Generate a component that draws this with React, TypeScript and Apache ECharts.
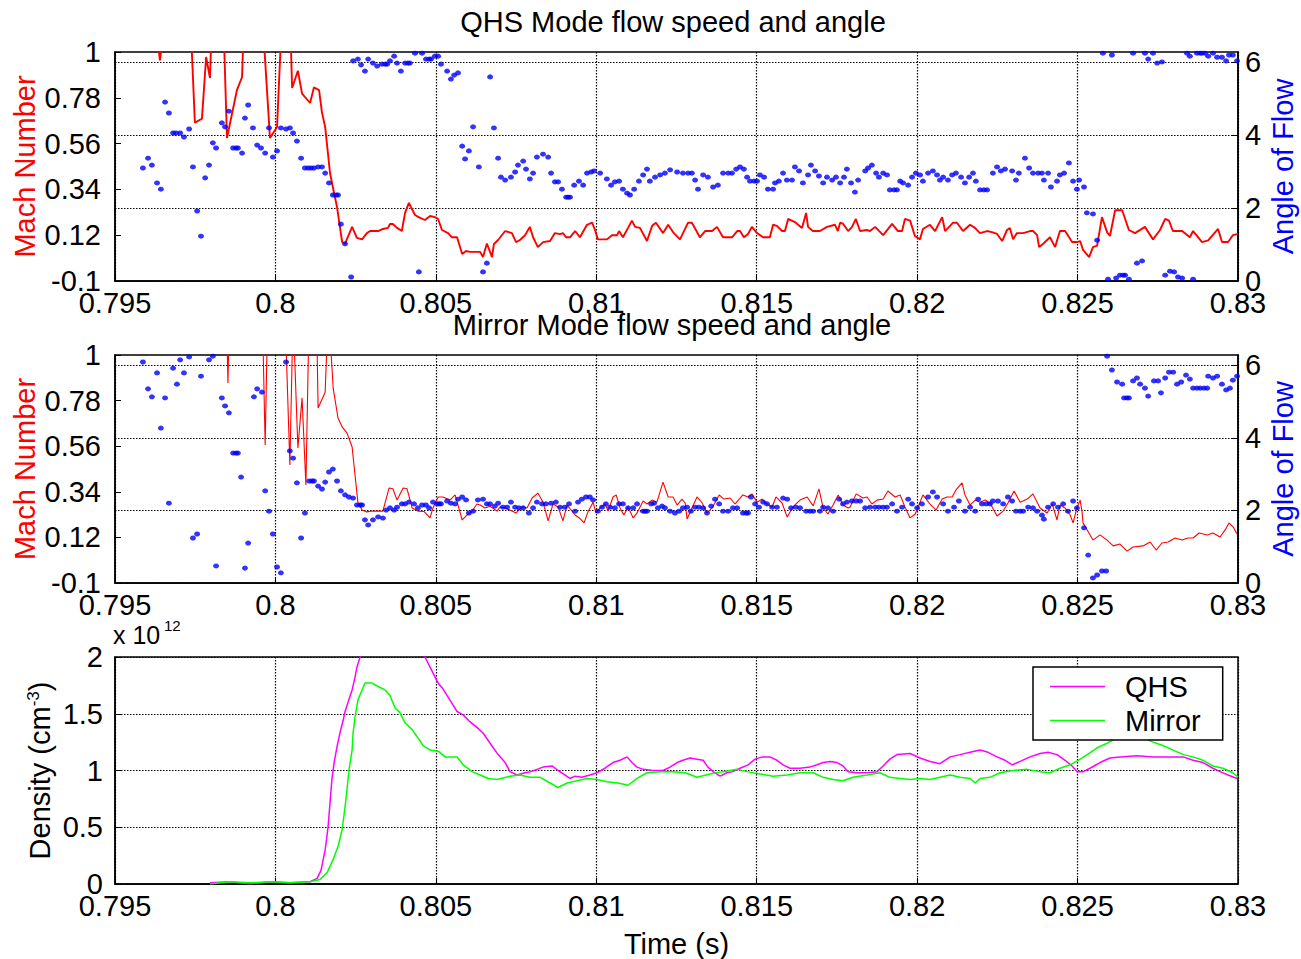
import React, { useEffect, useRef } from 'react';
import * as echarts from 'echarts';

const FONT = "'Liberation Sans', Arial, Helvetica, sans-serif";

const X_MIN = 0.795;
const X_MAX = 0.83;
const X_STEP = 0.005;
const machTicks = [-0.1, 0.12, 0.34, 0.56, 0.78, 1];
const angleTicks = [0, 2, 4, 6];
const ANGLE_MAX = 6.2832;
const densityTicks = [0, 0.5, 1, 1.5, 2];

const titles = ['QHS Mode flow speed and angle', 'Mirror Mode flow speed and angle'];
const legendNames = ['QHS', 'Mirror'];

// QHS mode: Mach number [time s, Mach]
const qhsMach: [number, number][] = [
  [0.79631,1.08],[0.79640,0.96],[0.79650,1.08],[0.79687,1.3],[0.79734,1.2],[0.79749,0.66],[0.79771,0.68],[0.79784,0.976],[0.79796,0.875],[0.79805,1.3],
  [0.79833,1.4],[0.79849,0.587],[0.79880,0.817],[0.79896,0.88],[0.79905,1.3],[0.79946,1.5],[0.79983,0.587],[0.80005,0.64],[0.80024,1.3],[0.80045,1.2],
  [0.80052,0.827],[0.80070,0.91],[0.80083,0.80],[0.80108,0.755],[0.80120,0.83],[0.80136,0.817],[0.80145,0.71],[0.80155,0.64],[0.80170,0.42],[0.80179,0.35],
  [0.80192,0.255],[0.80208,0.087],[0.80217,0.08],[0.80239,0.16],[0.80254,0.107],[0.80270,0.10],[0.80285,0.13],[0.80295,0.14],[0.80320,0.14],[0.80335,0.15],
  [0.80351,0.155],[0.80357,0.174],[0.80366,0.174],[0.80379,0.155],[0.80394,0.14],[0.80404,0.227],[0.80416,0.275],[0.80435,0.217],[0.80451,0.203],[0.80466,0.193],
  [0.80482,0.212],[0.80497,0.207],[0.80507,0.198],[0.80519,0.145],[0.80538,0.13],[0.80550,0.11],[0.80566,0.11],[0.80582,0.03],[0.80594,0.044],[0.80606,0.04],
  [0.80638,0.04],[0.80647,0.015],[0.80659,0.08],[0.80675,0.015],[0.80681,0.078],[0.80694,0.097],[0.80716,0.14],[0.80737,0.13],[0.80750,0.087],[0.80762,0.097],
  [0.80778,0.12],[0.80793,0.16],[0.80803,0.11],[0.80818,0.063],[0.80834,0.087],[0.80856,0.092],[0.80871,0.13],[0.80887,0.125],[0.80896,0.13],[0.80906,0.11],
  [0.80918,0.11],[0.80934,0.14],[0.80949,0.11],[0.80971,0.17],[0.80987,0.18],[0.80996,0.145],[0.81005,0.10],[0.81033,0.10],[0.81049,0.12],[0.81065,0.12],
  [0.81071,0.14],[0.81083,0.11],[0.81099,0.155],[0.81111,0.19],[0.81121,0.16],[0.81136,0.155],[0.81152,0.11],[0.81158,0.092],[0.81174,0.165],[0.81186,0.18],
  [0.81208,0.13],[0.81224,0.17],[0.81239,0.135],[0.81261,0.10],[0.81286,0.18],[0.81298,0.18],[0.81323,0.11],[0.81339,0.14],[0.81361,0.14],[0.81376,0.16],
  [0.81395,0.11],[0.81423,0.11],[0.81439,0.14],[0.81448,0.14],[0.81460,0.11],[0.81473,0.126],[0.81485,0.16],[0.81501,0.13],[0.81520,0.11],[0.81541,0.11],
  [0.81551,0.17],[0.81563,0.165],[0.81579,0.14],[0.81588,0.14],[0.81598,0.198],[0.81619,0.183],[0.81641,0.155],[0.81654,0.227],[0.81660,0.16],[0.81675,0.14],
  [0.81697,0.14],[0.81719,0.16],[0.81744,0.17],[0.81753,0.14],[0.81760,0.18],[0.81769,0.175],[0.81785,0.14],[0.81797,0.16],[0.81809,0.198],[0.81822,0.14],
  [0.81844,0.145],[0.81853,0.14],[0.81869,0.16],[0.81894,0.12],[0.81922,0.174],[0.81940,0.14],[0.81953,0.14],[0.81962,0.198],[0.81978,0.19],[0.81993,0.116],
  [0.82009,0.10],[0.82018,0.15],[0.82040,0.17],[0.82056,0.14],[0.82078,0.207],[0.82087,0.14],[0.82112,0.18],[0.82124,0.18],[0.82143,0.14],[0.82165,0.17],
  [0.82180,0.155],[0.82196,0.13],[0.82218,0.14],[0.82233,0.135],[0.82249,0.126],[0.82265,0.092],[0.82280,0.145],[0.82289,0.155],[0.82299,0.10],[0.82311,0.13],
  [0.82330,0.13],[0.82352,0.14],[0.82361,0.14],[0.82374,0.12],[0.82380,0.063],[0.82392,0.078],[0.82414,0.11],[0.82430,0.063],[0.82445,0.14],[0.82461,0.14],
  [0.82483,0.087],[0.82498,0.087],[0.82508,0.092],[0.82517,0.049],[0.82536,0.015],[0.82548,0.063],[0.82561,0.07],[0.82576,0.207],[0.82592,0.135],[0.82601,0.116],
  [0.82617,0.24],[0.82639,0.24],[0.82660,0.145],[0.82679,0.13],[0.82710,0.16],[0.82735,0.10],[0.82757,0.145],[0.82773,0.198],[0.82785,0.19],[0.82797,0.14],
  [0.82826,0.14],[0.82850,0.11],[0.82860,0.14],[0.82888,0.087],[0.82907,0.095],[0.82938,0.15],[0.82950,0.087],[0.82969,0.087],[0.82984,0.12],[0.83000,0.126]
];

// QHS mode: flow angle [time s, rad]
const qhsAngle: [number, number][] = [
  [0.79587,3.10],[0.79603,3.37],[0.79615,3.18],[0.79631,2.69],[0.79643,2.52],[0.79656,4.91],[0.79668,4.61],[0.79681,4.06],[0.79690,4.06],[0.79703,4.06],
  [0.79715,3.95],[0.79731,4.17],[0.79743,3.13],[0.79756,1.92],[0.79768,1.23],[0.79781,2.83],[0.79793,3.18],[0.79805,3.79],[0.79815,3.65],[0.79833,4.34],
  [0.79843,4.23],[0.79855,4.66],[0.79868,3.65],[0.79877,3.65],[0.79883,3.65],[0.79896,3.51],[0.79905,4.47],[0.79915,4.83],[0.79930,4.20],[0.79943,3.73],
  [0.79955,3.65],[0.79968,3.51],[0.79980,4.20],[0.79992,3.40],[0.80005,3.57],[0.80017,4.20],[0.80033,4.17],[0.80045,4.20],[0.80055,4.06],[0.80067,3.84],
  [0.80080,3.37],[0.80092,3.10],[0.80102,3.10],[0.80111,3.10],[0.80120,3.10],[0.80133,3.13],[0.80145,3.13],[0.80155,2.96],[0.80167,2.69],[0.80179,2.36],
  [0.80189,2.36],[0.80195,2.36],[0.80204,1.56],[0.80217,1.02],[0.80236,0.11],[0.80242,6.04],[0.80257,6.09],[0.80267,5.93],[0.80279,5.76],[0.80289,6.09],
  [0.80304,5.98],[0.80317,5.90],[0.80332,5.95],[0.80342,5.95],[0.80348,5.95],[0.80357,6.04],[0.80370,6.17],[0.80379,5.98],[0.80391,5.76],[0.80404,5.98],
  [0.80413,5.98],[0.80419,5.98],[0.80435,6.25],[0.80447,0.25],[0.80457,6.25],[0.80469,6.09],[0.80479,6.09],[0.80485,6.09],[0.80497,6.17],[0.80507,6.17],
  [0.80516,5.95],[0.80535,5.76],[0.80547,5.54],[0.80557,5.65],[0.80569,5.71],[0.80582,3.70],[0.80591,3.35],[0.80603,3.57],[0.80616,4.23],[0.80634,3.13],
  [0.80647,0.25],[0.80659,0.49],[0.80669,5.60],[0.80681,4.20],[0.80694,3.37],[0.80703,2.85],[0.80716,2.77],[0.80734,2.85],[0.80747,2.99],[0.80756,3.18],
  [0.80772,3.29],[0.80781,3.07],[0.80793,2.80],[0.80803,2.96],[0.80815,3.40],[0.80834,3.48],[0.80850,3.40],[0.80859,2.96],[0.80871,2.72],[0.80881,2.72],
  [0.80893,2.52],[0.80906,2.30],[0.80912,2.30],[0.80918,2.30],[0.80931,2.63],[0.80946,2.74],[0.80959,2.63],[0.80971,2.96],[0.80984,2.99],[0.80993,3.02],
  [0.81012,2.96],[0.81033,2.80],[0.81046,2.63],[0.81058,2.72],[0.81071,2.74],[0.81083,2.52],[0.81096,2.41],[0.81105,2.36],[0.81118,2.52],[0.81133,2.74],
  [0.81146,2.91],[0.81158,3.07],[0.81167,2.74],[0.81183,2.85],[0.81199,2.91],[0.81214,2.96],[0.81230,3.05],[0.81252,2.99],[0.81270,2.96],[0.81286,2.96],
  [0.81298,2.96],[0.81308,2.77],[0.81317,2.52],[0.81333,2.91],[0.81348,2.85],[0.81364,2.58],[0.81379,2.63],[0.81395,2.96],[0.81411,2.96],[0.81423,2.96],
  [0.81436,3.07],[0.81448,3.13],[0.81460,3.07],[0.81470,2.85],[0.81479,2.74],[0.81492,2.74],[0.81501,2.74],[0.81510,2.91],[0.81523,2.85],[0.81535,2.52],
  [0.81551,2.52],[0.81557,2.69],[0.81569,2.74],[0.81582,2.96],[0.81594,2.77],[0.81610,2.77],[0.81619,3.13],[0.81632,3.02],[0.81644,2.69],[0.81660,2.91],
  [0.81669,3.18],[0.81682,3.02],[0.81694,2.88],[0.81707,2.69],[0.81719,2.85],[0.81735,2.77],[0.81747,2.85],[0.81760,2.69],[0.81772,2.85],[0.81781,3.07],
  [0.81794,2.69],[0.81806,2.44],[0.81816,2.77],[0.81838,3.02],[0.81847,3.10],[0.81859,3.18],[0.81872,2.96],[0.81881,2.85],[0.81894,2.96],[0.81906,2.91],
  [0.81915,2.50],[0.81928,2.50],[0.81937,2.50],[0.81947,2.74],[0.81956,2.69],[0.81972,2.63],[0.81984,2.85],[0.81996,2.96],[0.82009,2.91],[0.82018,2.74],
  [0.82034,2.96],[0.82049,3.02],[0.82062,2.91],[0.82071,2.77],[0.82081,2.85],[0.82096,2.77],[0.82109,2.91],[0.82121,2.96],[0.82137,2.85],[0.82149,2.69],
  [0.82162,2.85],[0.82174,2.96],[0.82183,2.74],[0.82196,2.50],[0.82208,2.50],[0.82218,2.50],[0.82236,2.96],[0.82249,3.13],[0.82261,3.02],[0.82274,3.07],
  [0.82296,3.02],[0.82308,2.77],[0.82317,2.96],[0.82336,3.37],[0.82349,3.10],[0.82361,2.96],[0.82377,2.96],[0.82389,2.96],[0.82395,2.77],[0.82408,2.96],
  [0.82417,2.58],[0.82436,2.74],[0.82445,2.91],[0.82458,2.96],[0.82473,3.24],[0.82486,2.74],[0.82498,2.52],[0.82505,2.77],[0.82520,2.58],[0.82529,1.87],
  [0.82548,1.84],[0.82561,1.12],[0.82579,6.25],[0.82595,0.05],[0.82607,6.20],[0.82620,0.08],[0.82632,0.16],[0.82642,0.16],[0.82648,0.16],[0.82660,0.05],
  [0.82673,6.25],[0.82685,0.49],[0.82701,0.55],[0.82710,6.25],[0.82720,6.09],[0.82735,6.25],[0.82748,5.98],[0.82763,6.01],[0.82773,0.16],[0.82788,0.27],
  [0.82801,0.25],[0.82813,0.11],[0.82826,0.08],[0.82841,6.25],[0.82850,6.17],[0.82860,0.05],[0.82872,6.25],[0.82882,6.25],[0.82888,6.25],[0.82897,6.25],
  [0.82907,6.17],[0.82922,6.25],[0.82935,6.14],[0.82950,6.14],[0.82963,6.04],[0.82972,6.20],[0.82984,6.20],[0.82997,6.04]
];

// Mirror mode: Mach number [time s, Mach]
const mirrorMach: [number, number][] = [
  [0.79846,1.3],[0.79852,0.865],[0.79858,1.3],[0.79958,1.3],[0.79968,0.566],[0.79977,1.3],[0.80030,1.2],[0.80045,0.469],[0.80055,1.2],[0.80070,0.551],
  [0.80083,0.793],[0.80095,0.373],[0.80105,1.2],[0.80127,1.3],[0.80133,0.744],[0.80155,0.82],[0.80164,1.2],[0.80170,1.1],[0.80180,0.84],[0.80195,0.696],
  [0.80208,0.653],[0.80223,0.624],[0.80239,0.556],[0.80248,0.421],[0.80257,0.29],[0.80270,0.252],[0.80285,0.243],[0.80301,0.247],[0.80335,0.247],[0.80354,0.358],
  [0.80366,0.355],[0.80379,0.30],[0.80398,0.358],[0.80410,0.355],[0.80426,0.262],[0.80444,0.247],[0.80463,0.245],[0.80482,0.214],[0.80491,0.262],[0.80507,0.315],
  [0.80522,0.315],[0.80544,0.30],[0.80560,0.325],[0.80569,0.276],[0.80582,0.204],[0.80597,0.228],[0.80613,0.247],[0.80628,0.281],[0.80638,0.276],[0.80653,0.262],
  [0.80669,0.27],[0.80691,0.247],[0.80700,0.267],[0.80716,0.262],[0.80731,0.252],[0.80750,0.238],[0.80769,0.267],[0.80784,0.262],[0.80800,0.31],[0.80818,0.334],
  [0.80834,0.29],[0.80850,0.2],[0.80865,0.281],[0.80881,0.267],[0.80896,0.2],[0.80909,0.276],[0.80934,0.228],[0.80946,0.215],[0.80962,0.19],[0.80974,0.243],
  [0.80990,0.29],[0.80999,0.238],[0.81012,0.262],[0.81027,0.281],[0.81037,0.247],[0.81052,0.315],[0.81062,0.325],[0.81074,0.262],[0.81086,0.228],[0.81099,0.267],
  [0.81115,0.214],[0.81127,0.238],[0.81146,0.296],[0.81158,0.281],[0.81174,0.30],[0.81189,0.29],[0.81208,0.387],[0.81224,0.315],[0.81239,0.315],[0.81252,0.276],
  [0.81267,0.305],[0.81277,0.286],[0.81283,0.209],[0.81298,0.262],[0.81314,0.315],[0.81330,0.286],[0.81345,0.238],[0.81361,0.262],[0.81383,0.325],[0.81398,0.305],
  [0.81417,0.31],[0.81432,0.281],[0.81457,0.325],[0.81473,0.315],[0.81485,0.33],[0.81501,0.29],[0.81517,0.305],[0.81532,0.281],[0.81548,0.267],[0.81560,0.315],
  [0.81579,0.286],[0.81595,0.218],[0.81613,0.267],[0.81635,0.30],[0.81657,0.315],[0.81676,0.272],[0.81694,0.354],[0.81707,0.262],[0.81722,0.233],[0.81738,0.276],
  [0.81754,0.325],[0.81769,0.276],[0.81785,0.262],[0.81791,0.267],[0.81810,0.33],[0.81831,0.31],[0.81844,0.315],[0.81859,0.281],[0.81875,0.30],[0.81894,0.305],
  [0.81909,0.344],[0.81931,0.315],[0.81947,0.325],[0.81962,0.267],[0.81978,0.214],[0.81994,0.233],[0.82003,0.267],[0.82018,0.325],[0.82040,0.281],[0.82059,0.252],
  [0.82078,0.305],[0.82093,0.315],[0.82109,0.315],[0.82121,0.349],[0.82140,0.383],[0.82149,0.325],[0.82165,0.276],[0.82181,0.30],[0.82196,0.29],[0.82212,0.30],
  [0.82227,0.286],[0.82249,0.223],[0.82268,0.247],[0.82283,0.286],[0.82302,0.344],[0.82321,0.29],[0.82343,0.305],[0.82361,0.33],[0.82383,0.262],[0.82405,0.238],
  [0.82421,0.281],[0.82436,0.204],[0.82445,0.276],[0.82461,0.262],[0.82477,0.228],[0.82486,0.19],[0.82498,0.262],[0.82508,0.30],[0.82514,0.243],[0.82517,0.19],
  [0.82530,0.156],[0.82548,0.107],[0.82570,0.132],[0.82592,0.107],[0.82611,0.079],[0.82632,0.088],[0.82654,0.054],[0.82673,0.074],[0.82704,0.079],[0.82726,0.098],
  [0.82745,0.059],[0.82763,0.093],[0.82782,0.098],[0.82804,0.117],[0.82826,0.107],[0.82844,0.117],[0.82860,0.117],[0.82879,0.141],[0.82904,0.132],[0.82922,0.141],
  [0.82944,0.122],[0.82960,0.156],[0.82972,0.19],[0.82985,0.17],[0.82997,0.136]
];

// Mirror mode: flow angle [time s, rad]
const mirrorAngle: [number, number][] = [
  [0.79587,6.09],[0.79603,5.35],[0.79615,5.13],[0.79631,5.79],[0.79643,4.27],[0.79656,5.10],[0.79668,2.20],[0.79681,5.92],[0.79693,5.48],[0.79703,6.15],
  [0.79715,5.79],[0.79731,6.23],[0.79743,1.24],[0.79756,1.35],[0.79768,5.70],[0.79793,6.15],[0.79805,6.25],[0.79815,0.47],[0.79833,5.10],[0.79843,4.88],
  [0.79855,4.69],[0.79868,3.58],[0.79877,3.58],[0.79883,3.58],[0.79893,2.92],[0.79905,0.41],[0.79915,1.10],[0.79933,5.13],[0.79943,5.35],[0.79958,5.26],
  [0.79968,2.54],[0.79980,1.98],[0.79992,1.35],[0.80005,0.44],[0.80017,0.28],[0.80033,6.09],[0.80045,3.64],[0.80055,3.44],[0.80067,2.76],[0.80080,1.24],
  [0.80092,1.93],[0.80105,2.81],[0.80114,2.81],[0.80120,2.81],[0.80133,2.67],[0.80145,2.59],[0.80155,2.78],[0.80167,3.06],[0.80179,3.14],[0.80192,2.81],
  [0.80204,2.54],[0.80217,2.43],[0.80229,2.37],[0.80242,2.34],[0.80254,2.15],[0.80264,2.15],[0.80270,2.15],[0.80279,1.74],[0.80289,1.60],[0.80304,1.74],
  [0.80320,1.82],[0.80335,1.79],[0.80345,2.01],[0.80357,2.07],[0.80370,2.01],[0.80379,2.09],[0.80394,2.18],[0.80404,2.18],[0.80416,2.23],[0.80432,2.18],
  [0.80444,2.07],[0.80457,2.15],[0.80469,2.15],[0.80479,2.07],[0.80491,2.23],[0.80504,2.18],[0.80510,2.18],[0.80516,2.18],[0.80535,2.26],[0.80547,2.20],
  [0.80560,2.18],[0.80569,2.31],[0.80582,2.37],[0.80594,2.29],[0.80603,1.93],[0.80616,1.98],[0.80631,2.29],[0.80647,2.31],[0.80659,2.18],[0.80669,2.18],
  [0.80684,2.12],[0.80694,2.20],[0.80709,2.09],[0.80722,2.09],[0.80734,2.23],[0.80747,2.09],[0.80759,2.07],[0.80772,2.07],[0.80790,1.93],[0.80803,2.07],
  [0.80815,2.23],[0.80831,2.18],[0.80843,2.18],[0.80859,2.20],[0.80874,2.23],[0.80887,2.09],[0.80902,2.09],[0.80915,2.18],[0.80934,1.98],[0.80943,2.23],
  [0.80955,2.31],[0.80968,2.37],[0.80980,2.37],[0.80990,2.29],[0.81005,1.98],[0.81018,2.09],[0.81030,2.18],[0.81043,2.09],[0.81058,2.07],[0.81071,2.18],
  [0.81083,2.18],[0.81099,2.07],[0.81115,2.07],[0.81127,2.18],[0.81146,1.98],[0.81152,1.98],[0.81158,1.98],[0.81171,2.18],[0.81180,2.20],[0.81192,2.07],
  [0.81205,2.12],[0.81214,2.07],[0.81230,1.98],[0.81245,1.93],[0.81258,1.98],[0.81270,2.07],[0.81283,2.09],[0.81295,1.98],[0.81308,2.09],[0.81320,2.09],
  [0.81333,2.07],[0.81345,1.93],[0.81358,2.12],[0.81370,2.31],[0.81383,2.18],[0.81395,1.98],[0.81411,1.98],[0.81426,2.07],[0.81439,2.07],[0.81457,1.93],
  [0.81467,1.93],[0.81473,1.93],[0.81482,2.37],[0.81495,2.18],[0.81507,2.09],[0.81520,2.23],[0.81532,2.18],[0.81548,2.09],[0.81563,2.09],[0.81582,2.34],
  [0.81595,2.31],[0.81607,2.07],[0.81622,2.09],[0.81635,2.07],[0.81654,1.98],[0.81666,1.98],[0.81676,1.98],[0.81697,1.98],[0.81707,2.09],[0.81722,2.07],
  [0.81738,1.98],[0.81757,2.31],[0.81769,2.18],[0.81781,2.23],[0.81797,2.26],[0.81810,2.26],[0.81822,2.26],[0.81838,2.07],[0.81853,2.09],[0.81869,2.09],
  [0.81881,2.09],[0.81894,2.09],[0.81906,2.09],[0.81922,2.18],[0.81937,1.98],[0.81953,2.09],[0.81972,2.31],[0.81984,2.18],[0.82000,2.07],[0.82015,2.18],
  [0.82034,2.37],[0.82049,2.51],[0.82062,2.37],[0.82081,2.18],[0.82096,1.98],[0.82115,2.09],[0.82130,2.26],[0.82149,1.98],[0.82165,2.09],[0.82181,1.98],
  [0.82190,2.31],[0.82202,2.18],[0.82215,2.18],[0.82227,2.18],[0.82236,2.26],[0.82252,2.26],[0.82268,2.18],[0.82283,2.37],[0.82296,2.26],[0.82308,1.98],
  [0.82321,1.98],[0.82330,1.98],[0.82346,2.09],[0.82361,2.07],[0.82374,1.98],[0.82389,1.87],[0.82395,1.76],[0.82408,2.09],[0.82424,2.18],[0.82439,2.09],
  [0.82455,2.18],[0.82470,1.98],[0.82486,2.26],[0.82498,2.07],[0.82520,1.52],[0.82533,0.77],[0.82548,0.14],[0.82561,0.22],[0.82576,0.33],[0.82589,0.33],
  [0.82592,6.25],[0.82607,5.87],[0.82623,5.54],[0.82639,5.48],[0.82645,5.10],[0.82654,5.10],[0.82660,5.10],[0.82673,5.57],[0.82685,5.65],[0.82695,5.48],
  [0.82710,5.37],[0.82720,5.15],[0.82738,5.57],[0.82751,5.57],[0.82760,5.24],[0.82773,5.65],[0.82785,5.81],[0.82798,5.81],[0.82810,5.48],[0.82823,5.54],
  [0.82838,5.73],[0.82850,5.62],[0.82860,5.37],[0.82872,5.37],[0.82882,5.37],[0.82894,5.37],[0.82904,5.37],[0.82907,5.70],[0.82922,5.65],[0.82935,5.70],
  [0.82950,5.48],[0.82963,5.32],[0.82975,5.37],[0.82984,5.59],[0.82997,5.70]
];

// Density (x 10^12 cm^-3) [time s, density]
const qhsDensity: [number, number][] = [
  [0.79796,0.01],[0.79858,0.02],[0.79921,0.00],[0.79983,0.02],[0.80045,0.01],[0.80108,0.02],[0.80130,0.05],[0.80142,0.12],[0.80155,0.30],[0.80164,0.50],
  [0.80170,0.71],[0.80176,0.92],[0.80183,1.07],[0.80192,1.21],[0.80201,1.33],[0.80211,1.44],[0.80217,1.52],[0.80226,1.60],[0.80239,1.71],[0.80248,1.82],
  [0.80254,1.91],[0.80264,2.00],[0.80295,2.20],[0.80357,2.35],[0.80419,2.30],[0.80466,2.00],[0.80482,1.91],[0.80491,1.86],[0.80507,1.77],[0.80522,1.72],
  [0.80544,1.62],[0.80566,1.52],[0.80585,1.49],[0.80606,1.43],[0.80628,1.38],[0.80647,1.33],[0.80669,1.24],[0.80694,1.14],[0.80716,1.07],[0.80731,0.99],
  [0.80753,0.96],[0.80778,0.98],[0.80797,0.99],[0.80815,1.01],[0.80834,1.03],[0.80862,1.04],[0.80881,1.00],[0.80903,0.96],[0.80918,0.93],[0.80934,0.95],
  [0.80955,0.94],[0.80980,0.96],[0.81002,0.98],[0.81027,1.02],[0.81052,1.07],[0.81074,1.09],[0.81096,1.12],[0.81111,1.07],[0.81127,1.03],[0.81146,1.01],
  [0.81177,1.00],[0.81208,1.00],[0.81230,1.03],[0.81252,1.07],[0.81270,1.09],[0.81292,1.11],[0.81314,1.10],[0.81333,1.09],[0.81348,1.03],[0.81364,0.99],
  [0.81386,0.95],[0.81407,0.98],[0.81426,0.99],[0.81448,1.02],[0.81473,1.05],[0.81495,1.10],[0.81517,1.12],[0.81541,1.12],[0.81563,1.09],[0.81582,1.05],
  [0.81604,1.02],[0.81635,1.02],[0.81666,1.03],[0.81688,1.05],[0.81707,1.07],[0.81729,1.08],[0.81750,1.07],[0.81769,1.04],[0.81785,0.99],[0.81813,0.98],
  [0.81844,0.98],[0.81875,0.99],[0.81894,1.04],[0.81915,1.10],[0.81937,1.14],[0.81978,1.15],[0.82009,1.11],[0.82040,1.08],[0.82071,1.06],[0.82103,1.12],
  [0.82134,1.14],[0.82165,1.16],[0.82196,1.18],[0.82221,1.16],[0.82249,1.12],[0.82274,1.09],[0.82296,1.05],[0.82321,1.08],[0.82352,1.12],[0.82383,1.15],
  [0.82408,1.16],[0.82436,1.14],[0.82461,1.09],[0.82483,1.04],[0.82498,0.99],[0.82517,0.99],[0.82539,1.02],[0.82570,1.07],[0.82601,1.11],[0.82632,1.12],
  [0.82685,1.13],[0.82735,1.12],[0.82788,1.12],[0.82829,1.12],[0.82860,1.09],[0.82891,1.07],[0.82922,1.02],[0.82944,0.99],[0.82969,0.96],[0.82997,0.93]
];

const mirrorDensity: [number, number][] = [
  [0.79796,0.00],[0.79858,0.02],[0.79921,0.01],[0.79983,0.02],[0.80045,0.01],[0.80108,0.02],[0.80139,0.04],[0.80161,0.10],[0.80179,0.21],[0.80195,0.33],
  [0.80208,0.48],[0.80217,0.68],[0.80223,0.83],[0.80229,1.00],[0.80239,1.18],[0.80242,1.33],[0.80248,1.47],[0.80257,1.62],[0.80270,1.71],[0.80279,1.77],
  [0.80301,1.77],[0.80320,1.74],[0.80342,1.71],[0.80357,1.66],[0.80373,1.55],[0.80388,1.51],[0.80404,1.42],[0.80426,1.36],[0.80441,1.30],[0.80460,1.22],
  [0.80482,1.18],[0.80507,1.17],[0.80529,1.12],[0.80566,1.12],[0.80585,1.05],[0.80613,0.99],[0.80638,0.96],[0.80663,0.93],[0.80691,0.92],[0.80731,0.95],
  [0.80762,0.96],[0.80793,0.94],[0.80825,0.94],[0.80856,0.89],[0.80881,0.85],[0.80909,0.89],[0.80940,0.91],[0.80971,0.93],[0.81002,0.92],[0.81033,0.90],
  [0.81068,0.89],[0.81099,0.87],[0.81127,0.93],[0.81158,0.98],[0.81199,0.99],[0.81239,0.99],[0.81277,0.98],[0.81314,0.94],[0.81354,0.97],[0.81395,0.99],
  [0.81439,1.01],[0.81470,0.99],[0.81510,0.97],[0.81551,0.95],[0.81595,0.96],[0.81635,0.98],[0.81676,0.98],[0.81707,0.94],[0.81738,0.92],[0.81769,0.91],
  [0.81800,0.94],[0.81844,0.96],[0.81884,0.98],[0.81915,0.94],[0.81947,0.93],[0.81978,0.92],[0.82009,0.93],[0.82040,0.92],[0.82071,0.94],[0.82103,0.96],
  [0.82134,0.94],[0.82165,0.93],[0.82181,0.89],[0.82196,0.93],[0.82227,0.94],[0.82258,0.98],[0.82299,1.00],[0.82343,1.01],[0.82383,0.99],[0.82414,0.98],
  [0.82445,1.02],[0.82477,1.05],[0.82502,1.09],[0.82530,1.14],[0.82561,1.20],[0.82592,1.24],[0.82611,1.27],[0.82648,1.32],[0.82695,1.30],[0.82735,1.25],
  [0.82766,1.22],[0.82798,1.18],[0.82829,1.14],[0.82860,1.12],[0.82891,1.09],[0.82922,1.04],[0.82953,1.02],[0.82984,0.98],[0.83000,0.94]
];

const RED = '#ff0000';
const BLUE = '#0000ff';
const MAGENTA = '#ff00ff';
const GREEN = '#00ff00';
const FS = 29;

const grids = [
  { left: 115, top: 52, width: 1123, height: 229 },
  { left: 115, top: 355, width: 1123, height: 228 },
  { left: 115, top: 657, width: 1123, height: 227 },
];

const labelStyle = { fontSize: FS, fontFamily: FONT, color: '#000' };
const dotted = { color: '#000', type: [1.5, 1.5] as number[], width: 1.2 };
const axisLineStyle = { show: true, onZero: false, lineStyle: { color: '#000', width: 1.5 } };

function xAxisFor(gridIndex: number, withName: boolean) {
  return {
    type: 'value', gridIndex, min: X_MIN, max: X_MAX, interval: X_STEP,
    axisLine: axisLineStyle,
    axisTick: { show: true, inside: true, length: 6, lineStyle: { color: '#000' } },
    axisLabel: { ...labelStyle, margin: 7, formatter: (v: number) => String(Number(v.toFixed(3))) },
    splitLine: { show: true, lineStyle: dotted },
    name: withName ? 'Time (s)' : '',
    nameLocation: 'middle', nameGap: 45, nameMoveOverlap: false,
    nameTextStyle: { ...labelStyle },
  };
}

function machAxis(gridIndex: number) {
  return {
    type: 'value', gridIndex, position: 'left', min: -0.1, max: 1,
    axisLine: axisLineStyle,
    axisTick: { show: true, inside: true, length: 6, customValues: machTicks, lineStyle: { color: '#000' } },
    axisLabel: { ...labelStyle, margin: 14, customValues: machTicks, formatter: (v: number) => String(Number(v.toFixed(2))) },
    splitLine: { show: false },
    name: 'Mach Number', nameLocation: 'middle', nameGap: 76, nameMoveOverlap: false,
    nameTextStyle: { ...labelStyle, color: RED },
  };
}

function angleAxis(gridIndex: number) {
  return {
    type: 'value', gridIndex, position: 'right', min: 0, max: ANGLE_MAX, interval: 2,
    axisLine: axisLineStyle,
    axisTick: { show: true, inside: true, length: 6, customValues: angleTicks, lineStyle: { color: '#000' } },
    axisLabel: { ...labelStyle, margin: 7, customValues: angleTicks },
    splitLine: { show: true, lineStyle: dotted },
    name: 'Angle of Flow', nameLocation: 'middle', nameGap: 30, nameMoveOverlap: false,
    nameTextStyle: { ...labelStyle, color: BLUE },
  };
}

const densityAxis = {
  type: 'value', gridIndex: 2, position: 'left', min: 0, max: 2, interval: 0.5,
  axisLine: axisLineStyle,
  axisTick: { show: true, inside: true, length: 6, customValues: densityTicks, lineStyle: { color: '#000' } },
  axisLabel: { ...labelStyle, margin: 12, customValues: densityTicks },
  splitLine: { show: true, lineStyle: dotted },
  name: 'Density (cm{sup|-3})', nameLocation: 'middle', nameGap: 61, nameMoveOverlap: false,
  nameTextStyle: { ...labelStyle, rich: { sup: { fontSize: 17, fontFamily: FONT, color: '#000', verticalAlign: 'top' } } },
};

export default function App() {
  const ref = useRef<HTMLDivElement>(null);
  useEffect(() => {
    if (!ref.current) return;
    const chart = echarts.init(ref.current, undefined, { renderer: 'svg' });
    const option: any = {
      animation: false,
      title: [
        { text: titles[0], left: 673, top: 7, textAlign: 'center', padding: 0,
          textStyle: { ...labelStyle, fontWeight: 'normal' } },
        { text: titles[1], left: 672, top: 310, textAlign: 'center', padding: 0,
          textStyle: { ...labelStyle, fontWeight: 'normal' } },
      ],
      grid: grids.map((g) => ({ ...g, show: true, borderColor: '#000', borderWidth: 1.5, backgroundColor: 'transparent', outerBoundsMode: 'none', containLabel: false })),
      xAxis: [xAxisFor(0, false), xAxisFor(1, false), xAxisFor(2, true)],
      yAxis: [machAxis(0), angleAxis(0), machAxis(1), angleAxis(1), densityAxis],
      legend: {
        data: legendNames,
        orient: 'vertical',
        left: 1033, top: 667,
        padding: [5, 22, 5, 17],
        icon: 'rect',
        itemWidth: 55, itemHeight: 1.5, itemGap: 5,
        textStyle: { ...labelStyle, padding: [0, 0, 0, 15] },
        borderColor: '#000', borderWidth: 1.5, backgroundColor: '#fff', borderRadius: 0,
      },
      graphic: [
        { type: 'text', left: 113, top: 622, style: { text: 'x 10', fontSize: 25, fontFamily: FONT, fill: '#000' } },
        { type: 'text', left: 164, top: 618, style: { text: '12', fontSize: 15, fontFamily: FONT, fill: '#000' } },
      ],
      series: [
        { type: 'line', name: 'QHS Mach', xAxisIndex: 0, yAxisIndex: 0, data: qhsMach, symbol: 'none',
          lineStyle: { color: RED, width: 1.9 }, itemStyle: { color: RED }, z: 2 },
        { type: 'scatter', name: 'QHS Angle', xAxisIndex: 0, yAxisIndex: 1, data: qhsAngle, symbol: 'circle',
          symbolSize: [6, 5], itemStyle: { color: BLUE }, z: 3 },
        { type: 'line', name: 'Mirror Mach', xAxisIndex: 1, yAxisIndex: 2, data: mirrorMach, symbol: 'none',
          lineStyle: { color: RED, width: 1.1 }, itemStyle: { color: RED }, z: 2 },
        { type: 'scatter', name: 'Mirror Angle', xAxisIndex: 1, yAxisIndex: 3, data: mirrorAngle, symbol: 'circle',
          symbolSize: [6, 5], itemStyle: { color: BLUE }, z: 3 },
        { type: 'line', name: 'QHS', xAxisIndex: 2, yAxisIndex: 4, data: qhsDensity, symbol: 'none',
          lineStyle: { color: MAGENTA, width: 1.5 }, itemStyle: { color: MAGENTA } },
        { type: 'line', name: 'Mirror', xAxisIndex: 2, yAxisIndex: 4, data: mirrorDensity, symbol: 'none',
          lineStyle: { color: GREEN, width: 1.5 }, itemStyle: { color: GREEN } },
      ],
    };
    chart.setOption(option);
    return () => chart.dispose();
  }, []);
  return (
    <div
      ref={ref}
      style={{ position: 'absolute', left: 0, top: 0, width: 1301, height: 959, background: '#fff' }}
    />
  );
}
